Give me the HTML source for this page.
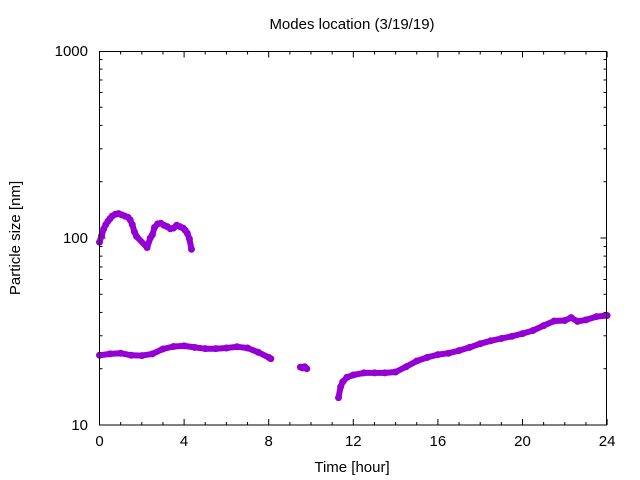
<!DOCTYPE html>
<html><head><meta charset="utf-8"><style>
html,body{margin:0;padding:0;background:#fff;}
svg{display:block;font-family:"Liberation Sans",sans-serif;}
</style></head><body>
<svg id="chart" width="640" height="480" viewBox="0 0 640 480">
<rect width="640" height="480" fill="#fff"/>
<text x="352" y="29" font-size="15" text-anchor="middle">Modes location (3/19/19)</text>
<text x="352" y="472" font-size="15" text-anchor="middle">Time [hour]</text>
<text x="20" y="238" font-size="15" text-anchor="middle" transform="rotate(-90 20 238)">Particle size [nm]</text>
<g id="axes"></g>
<g id="marks"></g>
<rect x="99.5" y="51.5" width="507" height="373.5" fill="none" stroke="#000" stroke-width="1"/>
</svg>
<script>
const upperTimes=[0,0.1,0.2,0.3,0.4,0.5,0.6,0.75,0.9,1.05,1.2,1.35,1.45,1.55,1.65,1.75,2.25,2.4,2.5,2.6,2.75,2.9,3.05,3.2,3.35,3.5,3.65,3.8,3.95,4.05,4.15,4.25,4.35];
const upperSizes=[95,103,112,118,123,127,131,134,135,133,131,129,125,118,108,102,89,100,104,114,119,120,117,115,112,113,117,115,113,110,106,99,87];
const lowerTimes=[0,0.5,1,1.5,2,2.5,3,3.5,4,4.5,5,5.5,6,6.5,7,7.5,8,8.1,9.5,9.6,9.7,9.8,11.3,11.4,11.5,11.7,12,12.5,13,13.5,14,14.5,15,15.5,16,16.5,17,17.5,18,18.5,19,19.5,20,20.5,21,21.5,22,22.3,22.6,23,23.5,24];
const lowerSizes=[23.6,24,24.2,23.6,23.5,24,25.5,26.3,26.5,26,25.6,25.6,25.8,26.2,25.8,24.5,23,22.6,20.4,20.2,20.5,20,14,16,17,18,18.5,19,19,19,19.2,20.5,22,23,23.8,24.2,25,26,27.2,28.2,29,29.8,30.8,32,34,36,36.2,37.5,35.8,36.5,38,38.5];
const xTicks=[0,4,8,12,16,20,24];
const yTicks=[10,100,1000];

const NS="http://www.w3.org/2000/svg";
const X0=99.5,XS=21.15,YB=425,DEC=187;
const xs=t=>X0+t*XS;
const ys=v=>YB-(Math.log10(v)-1)*DEC;
const axes=document.getElementById('axes'),marks=document.getElementById('marks');
function mk(tag,attrs,parent){const e=document.createElementNS(NS,tag);for(const k in attrs)e.setAttribute(k,attrs[k]);parent.appendChild(e);return e;}

for(let h=0;h<=24;h++){
  const x=xs(h),len=(h%4===0)?6:3;
  const a=mk('line',{x1:x,x2:x,y1:425,y2:425-len,stroke:'#000'},axes);
  
  
  const b=mk('line',{x1:x,x2:x,y1:51.5,y2:51.5+len,stroke:'#000'},axes);
  
  
}
xTicks.forEach(t=>{
  const tx=mk('text',{x:xs(t),y:446,'font-size':15,'text-anchor':'middle'},axes);
  tx.textContent=String(t);
  
  
});
for(let d=10;d<1000;d*=10){
  for(let m=1;m<10;m++){
    const v=d*m,y=ys(v),len=(m===1)?6:3;
    const a=mk('line',{x1:99.5,x2:99.5+len,y1:y,y2:y,stroke:'#000'},axes);
    
    
    const b=mk('line',{x1:606.5,x2:606.5-len,y1:y,y2:y,stroke:'#000'},axes);
    
    
  }
}
yTicks.forEach(v=>{
  const tx=mk('text',{x:88,y:ys(v)+5,'font-size':15,'text-anchor':'end'},axes);
  tx.textContent=String(v);
  
  
});
function series(ts,vs,name){
  let d='';
  for(let i=0;i<ts.length;i++){
    const cmd=(i===0||ts[i]-ts[i-1]>0.6)?'M':'L';
    d+=cmd+xs(ts[i]).toFixed(1)+' '+ys(vs[i]).toFixed(1)+' ';
  }
  const p=mk('path',{d:d,fill:'none',stroke:'#9400d3','stroke-width':6,'stroke-linejoin':'round','stroke-linecap':'round'},marks);
  
  
  for(let i=0;i<ts.length;i++){
    const c=mk('circle',{cx:xs(ts[i]),cy:ys(vs[i]),r:3.5,fill:'#9400d3'},marks);
    
    
  }
}
series(upperTimes,upperSizes,'upper-mode');
series(lowerTimes,lowerSizes,'lower-mode');
</script>
</body></html>
